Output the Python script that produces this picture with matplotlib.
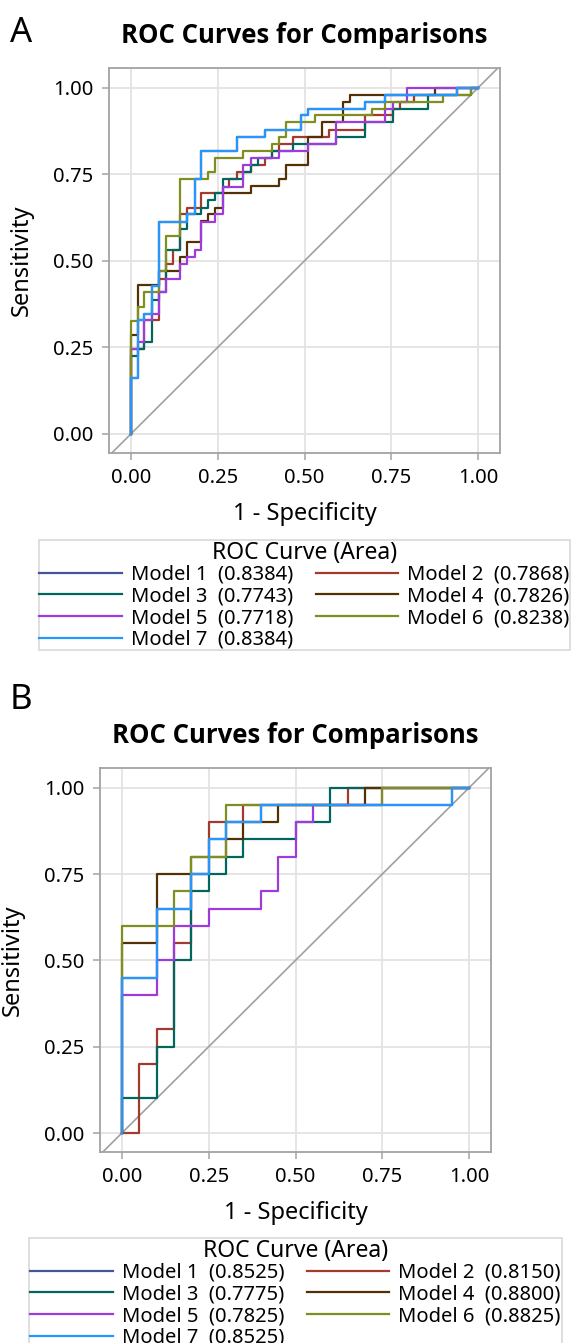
import matplotlib
matplotlib.use("Agg")
import matplotlib.pyplot as plt
from matplotlib.lines import Line2D
from matplotlib.ticker import FormatStrFormatter

plt.rcParams["font.family"] = ["Noto Sans", "DejaVu Sans"]

# ── data: step-curve vertices (1 - specificity, sensitivity) ─────────────────
MODELS = ["Model 1", "Model 2", "Model 3", "Model 4", "Model 5", "Model 6", "Model 7"]
COLORS = ["#445694", "#A23A2E", "#01665E", "#543005", "#9D3CDB", "#7F8E1F", "#2597FA"]

AUC_A = ["0.8384", "0.7868", "0.7743", "0.7826", "0.7718", "0.8238", "0.8384"]
AUC_B = ["0.8525", "0.8150", "0.7775", "0.8800", "0.7825", "0.8825", "0.8525"]

# panel A
A_M7_FPR = [0, 0, 0.020, 0.039, 0.060, 0.081, 0.163, 0.184, 0.203, 0.305, 0.386,
            0.489, 0.509, 0.674, 0.733, 0.938, 1.0]
A_M7_TPR = [0, 0.163, 0.329, 0.346, 0.427, 0.613, 0.634, 0.736, 0.818, 0.859, 0.879,
            0.921, 0.940, 0.960, 0.980, 1.0, 1.0]
# model 1 has the same curve as model 7 (hidden underneath)
A_M1_FPR = A_M7_FPR
A_M1_TPR = A_M7_TPR
A_M2_FPR = [0, 0, 0.039, 0.081, 0.100, 0.122, 0.141, 0.161, 0.203, 0.264, 0.283, 0.305,
            0.346, 0.386, 0.407, 0.427, 0.468, 0.570, 0.674, 0.756, 0.775, 0.816, 0.938, 1.0]
A_M2_TPR = [0, 0.245, 0.329, 0.449, 0.490, 0.532, 0.635, 0.654, 0.695, 0.714, 0.736, 0.756,
            0.776, 0.797, 0.818, 0.838, 0.859, 0.879, 0.921, 0.940, 0.960, 0.980, 1.0, 1.0]
A_M3_FPR = [0, 0, 0.020, 0.039, 0.060, 0.081, 0.100, 0.141, 0.163, 0.203, 0.223, 0.243,
            0.264, 0.324, 0.346, 0.367, 0.407, 0.468, 0.591, 0.674, 0.756, 0.857, 0.979, 1.0]
A_M3_TPR = [0, 0.225, 0.245, 0.265, 0.387, 0.409, 0.531, 0.593, 0.634, 0.654, 0.676, 0.695,
            0.736, 0.756, 0.776, 0.797, 0.818, 0.838, 0.859, 0.900, 0.940, 0.980, 1.0, 1.0]
A_M4_FPR = [0, 0, 0.020, 0.081, 0.141, 0.161, 0.203, 0.223, 0.243, 0.264, 0.346, 0.427,
            0.447, 0.509, 0.549, 0.612, 0.631, 0.877, 1.0]
A_M4_TPR = [0, 0.286, 0.429, 0.471, 0.510, 0.553, 0.614, 0.634, 0.654, 0.695, 0.715, 0.736,
            0.777, 0.859, 0.900, 0.960, 0.980, 1.0, 1.0]
A_M5_FPR = [0, 0, 0.020, 0.039, 0.060, 0.081, 0.100, 0.141, 0.163, 0.184, 0.203, 0.243,
            0.264, 0.324, 0.346, 0.427, 0.509, 0.591, 0.733, 0.756, 0.794, 1.0]
A_M5_TPR = [0, 0.245, 0.265, 0.329, 0.346, 0.409, 0.449, 0.491, 0.510, 0.531, 0.613, 0.634,
            0.714, 0.776, 0.797, 0.818, 0.838, 0.900, 0.940, 0.960, 1.0, 1.0]
A_M6_FPR = [0, 0, 0.020, 0.039, 0.081, 0.100, 0.141, 0.223, 0.243, 0.324, 0.407, 0.427,
            0.447, 0.530, 0.693, 0.733, 0.898, 0.979, 1.0]
A_M6_TPR = [0, 0.327, 0.368, 0.409, 0.471, 0.573, 0.736, 0.756, 0.797, 0.818, 0.838, 0.859,
            0.900, 0.921, 0.940, 0.960, 0.980, 1.0, 1.0]

# panel B
B_M7_FPR = [0, 0, 0.10, 0.20, 0.25, 0.30, 0.40, 0.95, 1.0]
B_M7_TPR = [0, 0.45, 0.65, 0.75, 0.85, 0.90, 0.95, 1.0, 1.0]
B_M1_FPR = B_M7_FPR
B_M1_TPR = B_M7_TPR
B_M2_FPR = [0, 0.05, 0.10, 0.15, 0.20, 0.25, 0.35, 0.65, 1.0]
B_M2_TPR = [0, 0.20, 0.30, 0.55, 0.75, 0.90, 0.95, 1.0, 1.0]
B_M3_FPR = [0, 0, 0.10, 0.15, 0.20, 0.25, 0.30, 0.35, 0.50, 0.60, 1.0]
B_M3_TPR = [0, 0.10, 0.25, 0.50, 0.70, 0.75, 0.80, 0.85, 0.90, 1.0, 1.0]
B_M4_FPR = [0, 0, 0.10, 0.20, 0.30, 0.35, 0.45, 0.70, 1.0]
B_M4_TPR = [0, 0.55, 0.75, 0.80, 0.85, 0.90, 0.95, 1.0, 1.0]
B_M5_FPR = [0, 0, 0.10, 0.15, 0.25, 0.40, 0.45, 0.50, 0.55, 0.75, 1.0]
B_M5_TPR = [0, 0.40, 0.50, 0.60, 0.65, 0.70, 0.80, 0.90, 0.95, 1.0, 1.0]
B_M6_FPR = [0, 0, 0.15, 0.20, 0.30, 0.75, 1.0]
B_M6_TPR = [0, 0.60, 0.70, 0.80, 0.95, 1.0, 1.0]

CURVES_A = [(A_M1_FPR, A_M1_TPR), (A_M2_FPR, A_M2_TPR), (A_M3_FPR, A_M3_TPR),
            (A_M4_FPR, A_M4_TPR), (A_M5_FPR, A_M5_TPR), (A_M6_FPR, A_M6_TPR),
            (A_M7_FPR, A_M7_TPR)]
CURVES_B = [(B_M1_FPR, B_M1_TPR), (B_M2_FPR, B_M2_TPR), (B_M3_FPR, B_M3_TPR),
            (B_M4_FPR, B_M4_TPR), (B_M5_FPR, B_M5_TPR), (B_M6_FPR, B_M6_TPR),
            (B_M7_FPR, B_M7_TPR)]

TICKS = [0, 0.25, 0.5, 0.75, 1.0]
C_FRAME = "#A3A3A3"
C_GRID = "#E3E3E3"

W, H = 571, 1343
fig = plt.figure(figsize=(W / 100, H / 100), dpi=100)


def px_axes(left, top, right, bottom):
    return fig.add_axes([left / W, 1 - bottom / H, (right - left) / W, (bottom - top) / H])


def roc_panel(ax, curves, aucs, letter, letter_y, legend_y):
    ax.plot([-0.2, 1.2], [-0.2, 1.2], color="#A0A0A0", lw=1.2, zorder=2)
    for (fpr, tpr), col in zip(curves, COLORS):
        ax.step(fpr, tpr, where="post", color=col, lw=1.6, zorder=3)
    ax.set_xlim(-0.063, 1.063)
    ax.set_ylim(-0.055, 1.057)
    ax.set_xticks(TICKS)
    ax.set_yticks(TICKS)
    ax.xaxis.set_major_formatter(FormatStrFormatter("%.2f"))
    ax.yaxis.set_major_formatter(FormatStrFormatter("%.2f"))
    ax.grid(True, color=C_GRID, lw=1.3, zorder=0)
    ax.set_axisbelow(True)
    for s in ax.spines.values():
        s.set_color(C_FRAME)
        s.set_linewidth(1.3)
    ax.tick_params(direction="out", length=5, width=1.1, color=C_FRAME,
                   labelsize=14.5, pad=6)
    ax.set_xlabel("1 - Specificity", fontsize=17, labelpad=10)
    ax.set_ylabel("Sensitivity", fontsize=17, labelpad=14)
    ax.set_title("ROC Curves for Comparisons", fontsize=18.5, fontweight="bold",
                 family=["Open Sans", "Lato", "DejaVu Sans"], pad=18)

    fig.text(10 / W, 1 - letter_y / H, letter, fontsize=25, ha="left", va="center")

    handles = [Line2D([], [], color=c, lw=1.6) for c in COLORS]
    labels = [f"{m}  ({a})" for m, a in zip(MODELS, aucs)]
    order = [0, 2, 4, 6, 1, 3, 5]
    leg = ax.legend([handles[i] for i in order], [labels[i] for i in order],
                    title="ROC Curve (Area)", ncol=2, loc="upper center",
                    bbox_to_anchor=(0.5, legend_y), fontsize=14.5,
                    title_fontsize=16.5, frameon=True, fancybox=False,
                    edgecolor="#CFCFCF", handlelength=4.1, handletextpad=0.45,
                    columnspacing=1.1, labelspacing=0.08, borderpad=0.04,
                    borderaxespad=0)
    leg.get_frame().set_linewidth(1.2)
    leg._legend_box.sep = 0


ax_a = px_axes(109, 68, 500, 453)
roc_panel(ax_a, CURVES_A, AUC_A, "A", 33, -0.226)

ax_b = px_axes(100, 768, 491, 1152)
roc_panel(ax_b, CURVES_B, AUC_B, "B", 700, -0.224)

fig.savefig("out.png", dpi=100, facecolor="white")
